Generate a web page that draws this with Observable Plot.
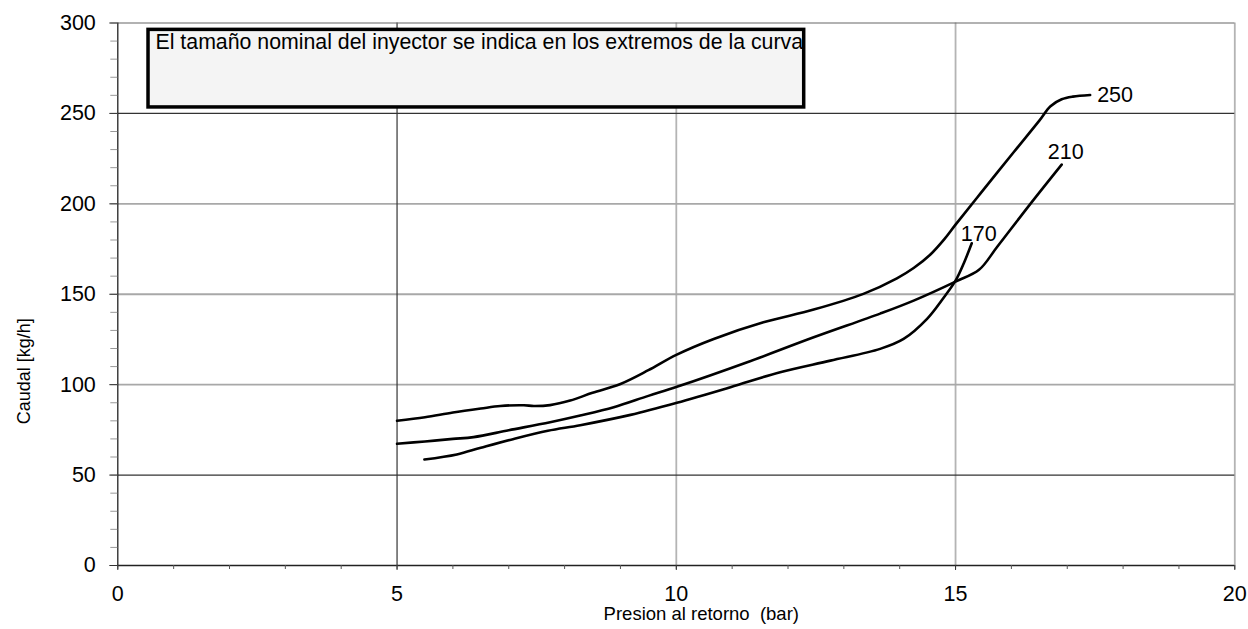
<!DOCTYPE html>
<html><head><meta charset="utf-8">
<script src="https://cdn.jsdelivr.net/npm/d3@7"></script>
<script src="https://cdn.jsdelivr.net/npm/@observablehq/plot@0.6"></script>
<style>body{margin:0;background:#fff} svg{display:block}</style>
</head><body><div id="chart"></div>
<script>
// Curve data (Presion al retorno [bar] vs Caudal [kg/h])
const presion250 = [5, 5.5, 6, 6.5, 6.85, 7.27, 7.45, 7.74, 8.1, 8.5, 9.0, 9.5, 10.0, 10.67, 11.56, 12.46, 13.35, 13.95, 14.25, 14.55, 14.8, 15.0, 15.44, 16.04, 16.5, 16.7, 16.9, 17.1, 17.41];
const caudal250  = [80, 82, 84.6, 86.8, 88.2, 88.6, 88.2, 88.7, 91.2, 95.5, 100.4, 108, 116.5, 125.3, 134.5, 141.5, 150.2, 158.8, 164.5, 172, 180.5, 188.5, 205.5, 228.5, 246, 254, 257.8, 259.3, 260.2];
const presion210 = [5, 5.5, 6.0, 6.37, 7.0, 7.74, 8.28, 8.88, 9.5, 10.01, 11.27, 12.46, 13.65, 14.25, 15.0, 15.42, 15.74, 16.34, 16.9];
const caudal210  = [67.3, 68.6, 70.0, 71.0, 74.8, 79.2, 82.9, 87.5, 93.8, 98.8, 112.4, 126.2, 139.3, 146.5, 157, 163.5, 176, 200, 221.7];
const presion170 = [5.49, 6.07, 6.5, 7.09, 7.7, 8.28, 9.18, 10.01, 10.97, 11.86, 12.76, 13.65, 14.07, 14.49, 14.78, 15.0, 15.15, 15.29];
const caudal170  = [58.6, 61.4, 65.1, 70, 74.5, 77.6, 83.3, 90, 98.6, 106.9, 113.3, 119.8, 125.3, 136.4, 147.8, 157.5, 167.3, 178.2];

const seriesNames = ["250", "210", "170"];
const xTicks = [0, 5, 10, 15, 20];
const yTicks = [0, 50, 100, 150, 200, 250, 300];
const xMinorTicks = d3.range(0, 21, 1);
const yMinorTicks = d3.range(0, 301, 10);
const gridXDark = [5];
const gridXGray = [10, 15, 20];
const gridYDark = [50, 250];
const gridYGray = [100, 150, 200];
const xTitle = "Presion al retorno  (bar)";
const yTitle = "Caudal [kg/h]";
const noteText = "El tamaño nominal del inyector se indica en los extremos de la curva";
const noteBox = {x1: 0.55, x2: 12.29, y1: 253.3, y2: 296.2};

const curves = [
  {name: seriesNames[0], xs: presion250, ys: caudal250},
  {name: seriesNames[1], xs: presion210, ys: caudal210},
  {name: seriesNames[2], xs: presion170, ys: caudal170}
];
const rows = curves.flatMap(c => c.xs.map((x, i) => ({serie: c.name, x, y: c.ys[i]})));
const ends = curves.map(c => ({serie: c.name, x: c.xs[c.xs.length - 1], y: c.ys[c.ys.length - 1]}));

const font = '"Liberation Sans", Arial, Helvetica, sans-serif';

const chart = Plot.plot({
  width: 1248,
  height: 629,
  marginLeft: 117.3,
  marginRight: 13.7,
  marginTop: 22.5,
  marginBottom: 64,
  style: {fontFamily: font, fontSize: "21.5px", background: "white", color: "black"},
  x: {domain: [0, 20]},
  y: {domain: [0, 300]},
  marks: [
    Plot.ruleX(gridXGray, {stroke: "#b4b4b4", strokeWidth: 1.8}),
    Plot.ruleY(gridYGray, {stroke: "#a8a8a8", strokeWidth: 1.8}),
    Plot.ruleX(gridXDark, {stroke: "#333", strokeWidth: 1.2}),
    Plot.ruleY(gridYDark, {stroke: "#333", strokeWidth: 1.2}),
    Plot.ruleY([300], {stroke: "#666", strokeWidth: 1.2}),
    Plot.ruleX([0], {stroke: "#222", strokeWidth: 1.3}),
    Plot.ruleY([0], {stroke: "#222", strokeWidth: 1.3}),
    Plot.axisY({ticks: yMinorTicks, tickSize: 7, stroke: "#999", fill: "none", label: null}),
    Plot.axisY({ticks: yTicks, tickSize: 8, tickPadding: 14, stroke: "#333", label: null, fontSize: 21.5}),
    Plot.axisX({ticks: xMinorTicks, tickSize: 4, stroke: "#555", fill: "none", label: null}),
    Plot.axisX({ticks: xTicks, tickSize: 5, tickPadding: 15, stroke: "#333", label: null, fontSize: 21.5}),
    Plot.rect([noteBox], {x1: "x1", x2: "x2", y1: "y1", y2: "y2", fill: "#f4f4f4", stroke: "black", strokeWidth: 3.5}),
    Plot.text([noteText], {x: noteBox.x1, y: noteBox.y2, text: d => d, textAnchor: "start", lineAnchor: "top", dx: 7, dy: 4, fontSize: 21.3}),
    Plot.line(rows, {x: "x", y: "y", z: "serie", stroke: "black", strokeWidth: 2.6, curve: "catmull-rom"}),
    Plot.text(ends.filter(d => d.serie === "250"), {x: "x", y: "y", text: "serie", textAnchor: "start", lineAnchor: "middle", dx: 7, dy: 0, fontSize: 21.5}),
    Plot.text(ends.filter(d => d.serie === "210"), {x: "x", y: "y", text: "serie", textAnchor: "middle", lineAnchor: "middle", dx: 4, dy: -12.3, fontSize: 21.5}),
    Plot.text(ends.filter(d => d.serie === "170"), {x: "x", y: "y", text: "serie", textAnchor: "middle", lineAnchor: "middle", dx: 7, dy: -9.5, fontSize: 21.5}),
    Plot.text([xTitle], {frameAnchor: "bottom", text: d => d, textAnchor: "middle", lineAnchor: "bottom", dx: 25, dy: 54.5, fontSize: 18.5}),
    Plot.text([yTitle], {frameAnchor: "left", text: d => d, rotate: -90, textAnchor: "middle", lineAnchor: "bottom", dx: -87.8, dy: 77, fontSize: 18})
  ]
});
document.getElementById("chart").appendChild(chart);
</script>
</body></html>
